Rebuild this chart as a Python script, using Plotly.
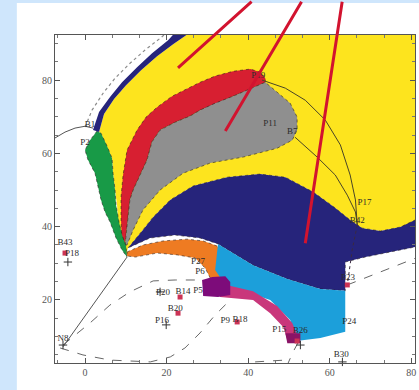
import plotly.graph_objects as go

# axis extents
X_RANGE = [-7.36, 80.9]
Y_RANGE = [2.8, 92.3]

# ---- filled regions (x, y vertices) ----
navy_band_x = [1.96, 3.44, 6.13, 9.08, 12.76, 16.44, 20.37, 22.6, 25.8, 24.79, 21.60, 17.67, 13.74, 10.06, 7.12, 4.66, 3.44]
navy_band_y = [66.35, 71.27, 75.35, 79.44, 83.53, 87.35, 90.89, 93.6, 93.6, 92.26, 89.80, 86.53, 82.71, 78.62, 74.81, 70.72, 65.81]

yellow_x = [3.44, 4.66, 7.12, 10.06, 13.74, 17.67, 21.60, 24.79, 25.8, 82, 82, 81, 77.3, 72.4, 68.0, 65.0, 61.35,
            55.95, 49.1, 42.9, 34.85, 26.5, 20.9, 16.7, 14.2, 12.3, 10.55, 10.1, 9.57, 8.59, 8.1, 7.85, 7.36, 6.87,
            6.63, 5.40, 3.93]
yellow_y = [65.81, 70.72, 74.81, 78.62, 82.71, 86.53, 89.80, 92.26, 93.6, 93.6, 42.4, 41.3, 39.9, 38.8, 39.6, 41.8,
            45.1, 49.45, 53.5, 54.35, 53.5, 51.1, 47.3, 42.6, 39.1, 36.4, 34.2, 32.5, 34.17, 37.7, 41.8, 45.9, 50.0,
            54.6, 58.7, 62.0, 65.5]

red_x = [9.08, 8.83, 8.83, 9.33, 10.31, 12.76, 14.97, 17.67, 21.35, 25.77, 28.22, 31.9, 36.3, 40.5, 42.9, 44.2,
         44.2, 41.7, 36.3, 31.9, 28.2, 25.8, 22.1, 18.4, 16.4, 15.2, 13.5, 11.8, 11.0, 10.3, 9.8]
red_y = [35.0, 41.8, 48.1, 54.1, 60.9, 66.35, 69.9, 72.6, 75.6, 78.1, 79.4, 81.1, 82.4, 83.0, 82.2, 80.5,
         79.4, 78.1, 75.6, 73.7, 71.8, 70.2, 68.5, 66.35, 63.1, 58.2, 54.1, 50.0, 47.3, 40.5, 35.0]

grey_x = [9.8, 10.3, 11.0, 11.8, 13.5, 15.2, 16.4, 18.4, 22.1, 25.8, 28.2, 31.9, 36.3, 41.7, 44.2, 47.1, 50.3,
          52.0, 52.0, 50.8, 47.1, 38.8, 30.7, 24.05, 18.4, 14.2, 11.8, 10.3]
grey_y = [35.0, 40.5, 47.3, 50.0, 54.1, 58.2, 63.1, 66.35, 68.5, 70.2, 71.8, 73.7, 75.6, 78.1, 79.4, 76.7, 73.7,
          69.9, 66.35, 63.6, 61.4, 59.0, 57.35, 54.6, 50.0, 44.55, 39.1, 35.0]

navy_x = [10.55, 12.3, 14.2, 16.7, 20.9, 26.5, 34.85, 42.9, 49.1, 55.95, 61.35, 65.0, 68.0, 72.4, 77.3, 82, 82,
          74.85, 68.7, 63.8, 63.8, 57.7, 49.6, 41.2, 32.6, 28.2, 22.1, 15.95, 11.0]
navy_y = [34.2, 36.4, 39.1, 42.6, 47.3, 51.1, 53.5, 54.35, 53.5, 49.45, 45.1, 41.8, 39.6, 38.8, 39.9, 42.4, 34.7,
          33.1, 31.7, 30.35, 22.5, 23.0, 25.7, 29.5, 35.3, 36.9, 37.7, 36.9, 34.45]

green_x = [2.94, 1.23, 0.0, 0.74, 2.45, 3.19, 3.93, 4.91, 6.13, 7.61, 9.08, 10.3, 10.06, 9.08, 8.34, 7.61, 7.36,
           6.87, 6.63, 5.40, 3.93]
green_y = [66.1, 63.6, 60.9, 58.2, 54.6, 50.8, 47.3, 44.0, 41.3, 36.9, 33.6, 31.7, 34.7, 37.7, 41.3, 45.9, 50.0,
           54.6, 58.7, 62.0, 65.5]

orange_x = [10.3, 14.2, 19.1, 25.0, 29.0, 32.4, 34.1, 34.1, 33.1, 30.7, 29.45, 27.0, 22.6, 17.7, 12.3, 10.3]
orange_y = [33.1, 35.0, 36.1, 36.6, 36.1, 34.7, 31.7, 27.6, 26.0, 26.0, 28.7, 31.45, 32.3, 32.8, 31.7, 32.0]

cyan_x = [32.6, 41.2, 49.6, 57.7, 63.8, 63.8, 57.7, 51.8, 50.3, 45.4, 38.0, 34.4, 31.9]
cyan_y = [35.3, 29.5, 25.7, 23.0, 22.5, 11.3, 9.6, 8.8, 14.5, 20.0, 22.7, 24.1, 28.2]

pink_x = [32.6, 41.2, 47.1, 50.8, 52.8, 49.8, 48.6, 45.4, 41.2, 33.1]
pink_y = [24.6, 22.4, 18.35, 13.7, 8.5, 8.5, 12.6, 16.4, 20.0, 20.8]

purple_x = [28.7, 31.2, 34.4, 35.6, 35.6, 32.6, 28.96]
purple_y = [25.45, 26.3, 26.5, 24.9, 21.35, 20.8, 21.1]

purple_tip_x = [49.1, 52.8, 52.8, 49.6]
purple_tip_y = [10.9, 10.9, 8.2, 8.2]

# ---- boundary curves ----
dotted_arc_x = [0.0, 1.72, 4.42, 7.36, 11.04, 14.72, 18.4, 19.9]
dotted_arc_y = [67.2, 71.8, 76.4, 80.5, 84.6, 88.2, 91.4, 92.8]

left_curve_x = [-7.36, -4.91, -2.45, 0.0, 1.96]
left_curve_y = [64.2, 65.8, 66.9, 67.4, 66.9]

solid_diag_x = [-5.4, 10.3]
solid_diag_y = [7.2, 31.7]

dash_upper_x = [-5.4, 1.2, 6.1, 11.0, 16.7, 22.1, 28.2]
dash_upper_y = [7.7, 13.7, 18.6, 22.2, 25.2, 25.45, 25.45]

dash_lower_x = [-6.1, -0.5, 6.1, 16.0, 20.9, 24.5, 28.2, 31.9, 35.6]
dash_lower_y = [6.9, 5.0, 3.6, 3.1, 4.45, 6.9, 11.0, 15.9, 20.0]

dash_tail_x = [52.3, 51.0, 49.8]
dash_tail_y = [8.5, 5.8, 2.8]

dash_floor_x = [41.7, 49.1]
dash_floor_y = [3.1, 3.6]

dash_right_x = [64.3, 72.4, 81.0]
dash_right_y = [24.1, 27.6, 31.4]

thin_a_x = [43.4, 49.1, 54.0, 58.9, 62.6, 65.0, 66.3, 66.75]
thin_a_y = [80.0, 77.8, 74.5, 69.1, 62.3, 54.1, 47.3, 40.5]

thin_b_x = [51.5, 56.9, 61.35, 64.3, 66.3, 66.75]
thin_b_y = [64.4, 59.0, 54.1, 48.6, 44.0, 40.5]

thin_c_x = [66.75, 65.5, 64.3]
thin_c_y = [40.5, 33.6, 24.1]

# ---- point labels and markers ----
label_text = ["B1", "P2", "P19", "P11", "B7", "P17", "B42", "P23", "P24", "B30", "P15", "B26", "P9", "B18",
              "P20", "B14", "P5", "P27", "P6", "B20", "P16", "B43", "P18", "N8"]
label_x = [1.23, 0.0, 42.45, 45.4, 50.8, 68.5, 66.75, 64.5, 64.8, 62.8, 47.6, 52.8, 34.4, 38.0,
           19.1, 24.05, 27.7, 27.7, 28.2, 22.1, 18.9, -4.9, -3.2, -5.4]
label_y = [67.9, 62.8, 81.1, 68.0, 65.8, 46.5, 41.5, 26.0, 14.0, 5.0, 11.8, 11.6, 14.3, 14.5,
           21.9, 22.2, 22.4, 30.35, 27.6, 17.5, 14.3, 35.5, 32.5, 9.4]

square_x = [-4.9, 23.3, 22.8, 37.3, 64.3, 52.0]
square_y = [32.8, 20.8, 16.4, 14.0, 24.1, 8.8]

cross_x = [-4.2, 19.9, 52.8, 63.1, -5.4, 18.4]
cross_y = [30.35, 13.2, 7.7, 3.1, 7.7, 22.2]

# pointer lines: (tail x, tail y, tip x, tip y)
pointer_tail_x = [41.2, 53.3, 63.1]
pointer_tail_y = [101.8, 101.8, 101.8]
pointer_tip_x = [22.8, 34.4, 54.0]
pointer_tip_y = [83.3, 66.1, 35.5]

EDGE = dict(color="rgba(35,25,25,0.55)", width=1, dash="dot")

fig = go.Figure()


def region(xs, ys, color, edge=True):
    fig.add_trace(go.Scatter(
        x=xs + xs[:1], y=ys + ys[:1], mode="lines", fill="toself", fillcolor=color,
        line=EDGE if edge else dict(width=0, color=color), hoverinfo="skip", showlegend=False))


def curve(xs, ys, color, width=1, dash="solid"):
    fig.add_trace(go.Scatter(x=xs, y=ys, mode="lines", line=dict(color=color, width=width, dash=dash),
                             hoverinfo="skip", showlegend=False))


region(yellow_x, yellow_y, "#fde41e", edge=False)
region(red_x, red_y, "#d71f31")
region(grey_x, grey_y, "#8f8f8f")
region(navy_x, navy_y, "#26247b")
region(green_x, green_y, "#189a47")
region(orange_x, orange_y, "#ee7b22")
region(cyan_x, cyan_y, "#1c9fda", edge=False)
region(pink_x, pink_y, "#c9377b", edge=False)
region(purple_x, purple_y, "#7d0c7a", edge=False)
region(purple_tip_x, purple_tip_y, "#8a1466", edge=False)
region(navy_band_x, navy_band_y, "#26247b", edge=False)

curve(dotted_arc_x, dotted_arc_y, "#8a8a8a", 1.2, "dot")
curve(left_curve_x, left_curve_y, "#555555", 1)
curve(solid_diag_x, solid_diag_y, "#555555", 1)
curve(dash_upper_x, dash_upper_y, "#666666", 1, "dash")
curve(dash_lower_x, dash_lower_y, "#666666", 1, "dash")
curve(dash_tail_x, dash_tail_y, "#666666", 1, "dash")
curve(dash_floor_x, dash_floor_y, "#666666", 1, "dash")
curve(dash_right_x, dash_right_y, "#666666", 1, "dash")
curve(thin_a_x, thin_a_y, "#4a4526", 1)
curve(thin_b_x, thin_b_y, "#4a4526", 1)
curve(thin_c_x, thin_c_y, "#3a2a40", 1, "dot")

fig.add_trace(go.Scatter(x=square_x, y=square_y, mode="markers",
                         marker=dict(symbol="square", size=5, color="#cc3355"),
                         hoverinfo="skip", showlegend=False, cliponaxis=False))
fig.add_trace(go.Scatter(x=cross_x, y=cross_y, mode="markers",
                         marker=dict(symbol="cross-thin", size=6, line=dict(color="#333333", width=1)),
                         hoverinfo="skip", showlegend=False, cliponaxis=False))
fig.add_trace(go.Scatter(x=label_x, y=label_y, mode="text", text=label_text,
                         textfont=dict(family="Liberation Serif", size=9, color="#2b2b2b"),
                         hoverinfo="skip", showlegend=False, cliponaxis=False))

for tx, ty, hx, hy in zip(pointer_tail_x, pointer_tail_y, pointer_tip_x, pointer_tip_y):
    fig.add_annotation(x=hx, y=hy, ax=tx, ay=ty, xref="x", yref="y", axref="x", ayref="y",
                       text="", showarrow=True, arrowhead=0, arrowwidth=3, arrowcolor="#d2132f",
                       standoff=0, startstandoff=0)

# white panel behind the plot
fig.add_shape(type="rect", xref="paper", yref="paper", x0=-0.106, x1=1.05, y0=-0.09, y1=1.0976,
              fillcolor="white", line=dict(width=0), layer="below")

axis_common = dict(showgrid=False, zeroline=False, showline=True, linecolor="#555555", linewidth=1,
                   mirror="allticks", ticks="inside", ticklen=5, tickcolor="#555555",
                   tickfont=dict(family="Liberation Serif", size=10, color="#555555"))

fig.update_xaxes(range=X_RANGE, tick0=0, dtick=20,
                 minor=dict(dtick=20 / 3, ticks="inside", ticklen=3, tickcolor="#777777"), **axis_common)
fig.update_yaxes(range=Y_RANGE, tick0=0, dtick=20,
                 minor=dict(dtick=5, ticks="inside", ticklen=3, tickcolor="#777777"), **axis_common)

fig.update_layout(width=419, height=390, margin=dict(l=55, r=4, t=35, b=27),
                  paper_bgcolor="#cfe6fc", plot_bgcolor="white", showlegend=False)

fig.write_html("out.html")
